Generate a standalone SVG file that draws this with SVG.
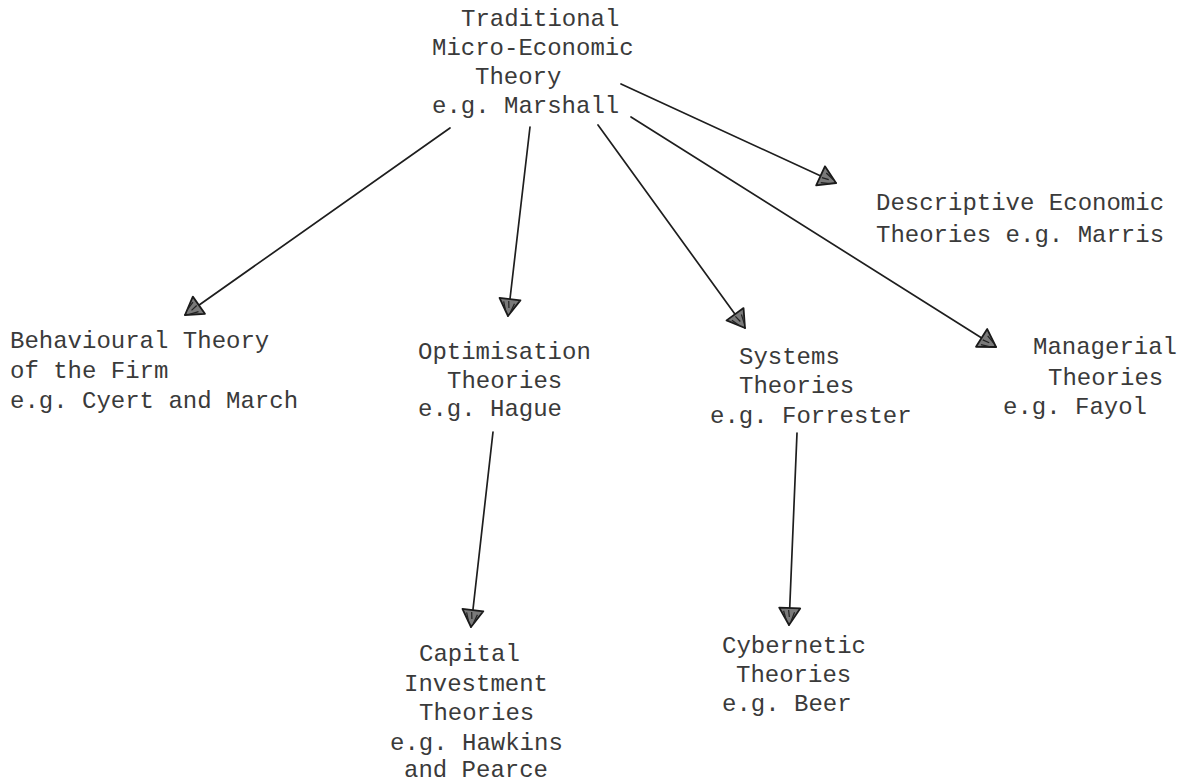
<svg xmlns="http://www.w3.org/2000/svg" width="1193" height="782" viewBox="0 0 1193 782">
<style>
text{font-family:"Liberation Mono","Courier New",monospace;font-size:24px;fill:#3a3a3a}
.c{stroke:#1e1e1e;stroke-width:1.7;fill:none;stroke-linecap:round}
</style>
<defs>
<marker id="ah" markerUnits="userSpaceOnUse" markerWidth="26" markerHeight="26" viewBox="-20 -13 23 26" refX="0" refY="0" orient="auto">
<path d="M0,0 L-17,-10.5 L-17,10.5 Z" fill="#7a7a7a" stroke="#1a1a1a" stroke-width="1.8" stroke-linejoin="round"/>
<path d="M-4,-2 L-13,-5 M-5,3 L-14,6 M-8,0 L-15,1" stroke="#222" stroke-width="1.2"/>
</marker>
</defs>
<rect width="1193" height="782" fill="#ffffff"/>
<g id="connectors">
<line class="c" x1="450" y1="128" x2="185" y2="315" marker-end="url(#ah)"/>
<line class="c" x1="530" y1="127" x2="508" y2="316" marker-end="url(#ah)"/>
<line class="c" x1="598" y1="125" x2="745" y2="328" marker-end="url(#ah)"/>
<line class="c" x1="631" y1="117" x2="996" y2="347" marker-end="url(#ah)"/>
<line class="c" x1="621" y1="84" x2="836" y2="183" marker-end="url(#ah)"/>
<line class="c" x1="493" y1="432" x2="471" y2="627" marker-end="url(#ah)"/>
<line class="c" x1="797" y1="433" x2="789" y2="625" marker-end="url(#ah)"/>
</g>
<g id="traditional">
<text x="461" y="26">Traditional</text>
<text x="432" y="55">Micro-Economic</text>
<text x="475" y="84">Theory</text>
<text x="432" y="113">e.g. Marshall</text>
</g>
<g id="descriptive">
<text x="876" y="210">Descriptive Economic</text>
<text x="876" y="242">Theories e.g. Marris</text>
</g>
<g id="behavioural">
<text x="10" y="348">Behavioural Theory</text>
<text x="10" y="378">of the Firm</text>
<text x="10" y="408">e.g. Cyert and March</text>
</g>
<g id="optimisation">
<text x="418" y="359">Optimisation</text>
<text x="447" y="388">Theories</text>
<text x="418" y="416">e.g. Hague</text>
</g>
<g id="systems">
<text x="739" y="364">Systems</text>
<text x="739" y="393">Theories</text>
<text x="710" y="423">e.g. Forrester</text>
</g>
<g id="managerial">
<text x="1033" y="354">Managerial</text>
<text x="1048" y="385">Theories</text>
<text x="1003" y="414">e.g. Fayol</text>
</g>
<g id="capital">
<text x="419" y="661">Capital</text>
<text x="404" y="691">Investment</text>
<text x="419" y="720">Theories</text>
<text x="390" y="750">e.g. Hawkins</text>
<text x="404" y="777">and Pearce</text>
</g>
<g id="cybernetic">
<text x="722" y="653">Cybernetic</text>
<text x="736" y="682">Theories</text>
<text x="722" y="711">e.g. Beer</text>
</g>
</svg>
